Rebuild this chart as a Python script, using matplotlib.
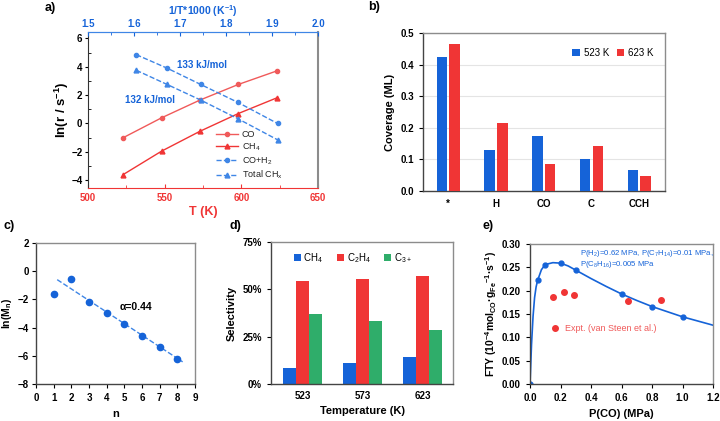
import matplotlib
matplotlib.use("Agg")
import matplotlib.pyplot as plt
from matplotlib.ticker import MultipleLocator, PercentFormatter, FormatStrFormatter
import numpy as np

plt.rcParams['font.family'] = ['Liberation Sans', 'DejaVu Sans']
plt.rcParams['font.weight'] = 'bold'
plt.rcParams['axes.labelweight'] = 'bold'
plt.rcParams['mathtext.default'] = 'regular'

# ---------------- data ----------------
# panel a
temps = [523, 548, 573, 598, 623]
ln_co = [-1.0, 0.4, 1.65, 2.75, 3.7]
ln_ch4 = [-3.6, -1.95, -0.55, 0.7, 1.8]
inv_t = [1.605, 1.672, 1.745, 1.825, 1.912]
ln_coh2 = [4.85, 3.9, 2.75, 1.5, 0.0]
ln_totch = [3.75, 2.75, 1.65, 0.35, -1.15]

# panel b
cov_species = ['*', 'H', 'CO', 'C', 'CCH']
cov_523 = [0.423, 0.131, 0.173, 0.101, 0.066]
cov_623 = [0.466, 0.214, 0.087, 0.143, 0.049]

# panel c
n_vals = [1, 2, 3, 4, 5, 6, 7, 8]
ln_mn = [-1.65, -0.55, -2.15, -2.95, -3.75, -4.6, -5.4, -6.25]
fit_n = [1.2, 8.3]
fit_ln = [-0.6, -6.43]

# panel d
sel_temps = ['523', '573', '623']
sel_ch4 = [8.5, 11.3, 14.3]
sel_c2h4 = [54.2, 55.2, 57.2]
sel_c3 = [37.0, 33.5, 28.5]

# panel e
curve_p = [0.0, 0.01, 0.02, 0.03, 0.04, 0.05, 0.075, 0.1, 0.15, 0.2, 0.25, 0.3,
           0.4, 0.5, 0.6, 0.7, 0.8, 0.9, 1.0, 1.1, 1.2]
curve_fty = [0.0, 0.085, 0.145, 0.185, 0.208, 0.222, 0.245, 0.256, 0.260, 0.259,
             0.253, 0.244, 0.226, 0.209, 0.193, 0.179, 0.166, 0.155, 0.144, 0.135, 0.126]
model_p = [0.0, 0.05, 0.1, 0.2, 0.3, 0.6, 0.8, 1.0]
model_fty = [0.0, 0.222, 0.256, 0.259, 0.244, 0.193, 0.166, 0.144]
expt_p = [0.15, 0.22, 0.29, 0.64, 0.86]
expt_fty = [0.187, 0.197, 0.190, 0.177, 0.180]

BLUE = '#1563d8'
RED = '#f03535'
GREEN = '#2fad6a'
LRED = '#f05a5a'
LBLUE = '#3f86e6'
SPINE = '#8c8c8c'

W, H = 720, 421
fig = plt.figure(figsize=(7.2, 4.21), dpi=100)

def rect(l, t, r, b):
    return [l / W, 1 - b / H, (r - l) / W, (b - t) / H]

def grey_spines(ax):
    for s in ax.spines.values():
        s.set_color(SPINE)
        s.set_linewidth(1.0)
    ax.spines['left'].set_color('#444444')
    ax.spines['bottom'].set_color('#444444')

# ---------------- panel a ----------------
ax = fig.add_axes(rect(88, 32, 318, 188))
ax.set_xlim(500, 650)
ax.set_ylim(-4.55, 6.45)
h1, = ax.plot(temps, ln_co, '-o', color=LRED, ms=3, lw=1, label='CO')
h2, = ax.plot(temps, ln_ch4, '-^', color=RED, ms=3.5, lw=1, label='CH$_4$')
ax.set_xlabel('T (K)', color=RED, fontsize=9, labelpad=2)
ax.set_ylabel('ln(r / s$^{-1}$)', fontsize=9.5)
ax.yaxis.set_label_coords(-0.075, 0.5)
ax.xaxis.set_major_locator(MultipleLocator(50))
ax.xaxis.set_minor_locator(MultipleLocator(25))
ax.yaxis.set_major_locator(MultipleLocator(2))
ax.yaxis.set_minor_locator(MultipleLocator(1))
ax.tick_params(axis='x', colors=RED, labelsize=7, direction='in', length=3)
ax.tick_params(axis='x', which='minor', colors=RED, direction='in', length=2)
ax.tick_params(axis='y', labelsize=7, direction='out', length=2.5, pad=1.5)
ax.tick_params(axis='y', which='minor', direction='in', length=2)
ax.spines['bottom'].set_color(RED)
ax.spines['left'].set_color('#333333')
ax.spines['right'].set_color(SPINE)
ax.spines['right'].set_linewidth(1.5)
ax.spines['top'].set_color(LBLUE)

axt = ax.twiny()
axt.set_xlim(1.5, 2.0)
h3, = axt.plot(inv_t, ln_coh2, '--o', color=LBLUE, ms=3, lw=1, label='CO+H$_2$')
h4, = axt.plot(inv_t, ln_totch, '--^', color=LBLUE, ms=3.5, lw=1, label='Total CH$_x$')
axt.set_xlabel('1/T*1000 (K$^{-1}$)', color=BLUE, fontsize=7.5, labelpad=3)
axt.xaxis.set_major_locator(MultipleLocator(0.1))
axt.xaxis.set_minor_locator(MultipleLocator(0.05))
axt.xaxis.set_major_formatter(FormatStrFormatter('%.1f'))
axt.tick_params(axis='x', colors=BLUE, labelsize=7, direction='in', length=3, pad=2)
axt.tick_params(axis='x', which='minor', colors=BLUE, direction='in', length=2)
for s in ['left', 'right', 'bottom']:
    axt.spines[s].set_visible(False)
axt.spines['top'].set_color(LBLUE)
axt.text(1.693, 4.1, '133 kJ/mol', color=BLUE, fontsize=7, fontweight='bold', va='center')
axt.text(1.58, 1.65, '132 kJ/mol', color=BLUE, fontsize=7, fontweight='bold', va='center')
leg = ax.legend(handles=[h1, h2, h3, h4], loc='lower right', bbox_to_anchor=(0.88, -0.01),
                frameon=False, handlelength=2.4, labelspacing=0.25, handletextpad=0.4,
                prop={'weight': 'normal', 'size': 6.5})
for t in leg.get_texts():
    t.set_color('#222222')
fig.text(45 / W, 1 - 8 / H, 'a)', fontsize=9, fontweight='bold', va='center')

# ---------------- panel b ----------------
ax = fig.add_axes(rect(423, 33, 665, 191))
xb = np.arange(len(cov_species))
ax.bar(xb - 0.135, cov_523, width=0.22, color=BLUE, label='523 K', zorder=3)
ax.bar(xb + 0.135, cov_623, width=0.22, color=RED, label='623 K', zorder=3)
ax.set_xlim(-0.53, 4.54)
ax.set_ylim(0, 0.5)
ax.set_xticks(xb)
ax.set_xticklabels(cov_species)
ax.yaxis.set_major_locator(MultipleLocator(0.1))
ax.yaxis.set_major_formatter(FormatStrFormatter('%.1f'))
ax.grid(axis='y', color='#e4e4e4', lw=0.8, zorder=0)
ax.tick_params(axis='x', length=0, labelsize=7, pad=6)
ax.tick_params(axis='y', labelsize=7, length=3)
ax.set_ylabel('Coverage (ML)', fontsize=8, labelpad=4)
grey_spines(ax)
ax.legend(loc='upper right', ncol=2, frameon=False, handlelength=0.8,
          handleheight=0.8, columnspacing=0.8, handletextpad=0.4,
          prop={'weight': 'normal', 'size': 7}, bbox_to_anchor=(0.99, 0.96))
fig.text(368 / W, 1 - 7 / H, 'b)', fontsize=9, fontweight='bold', va='center')

# ---------------- panel c ----------------
ax = fig.add_axes(rect(36, 243, 195, 384))
ax.plot(fit_n, fit_ln, '--', color=LBLUE, lw=1)
ax.plot(n_vals, ln_mn, 'o', color=BLUE, ms=4.5, ls='none')
ax.set_xlim(0, 9)
ax.set_ylim(-8, 2)
ax.xaxis.set_major_locator(MultipleLocator(1))
ax.yaxis.set_major_locator(MultipleLocator(2))
ax.tick_params(labelsize=7, length=3)
ax.tick_params(axis='y', pad=2)
ax.set_xlabel('n', fontsize=8)
ax.set_ylabel('ln(M$_n$)', fontsize=7.5)
ax.yaxis.set_label_coords(-0.14, 0.5)
ax.text(4.75, -2.55, 'α=0.44', fontsize=7.5, fontweight='bold', va='center')
grey_spines(ax)
fig.text(3 / W, 1 - 226 / H, 'c)', fontsize=9, fontweight='bold', va='center')

# ---------------- panel d ----------------
ax = fig.add_axes(rect(271, 242, 453, 384))
xd = np.arange(len(sel_temps))
ax.bar(xd - 0.22, sel_ch4, width=0.22, color=BLUE, label='CH$_4$')
ax.bar(xd, sel_c2h4, width=0.22, color=RED, label='C$_2$H$_4$')
ax.bar(xd + 0.22, sel_c3, width=0.22, color=GREEN, label='C$_{3+}$')
ax.set_xlim(-0.53, 2.51)
ax.set_ylim(0, 75)
ax.set_xticks(xd)
ax.set_xticklabels(sel_temps)
ax.yaxis.set_major_locator(MultipleLocator(25))
ax.yaxis.set_major_formatter(PercentFormatter(decimals=0))
ax.tick_params(axis='x', length=0, labelsize=7, pad=5)
ax.tick_params(axis='y', labelsize=7, length=3)
ax.set_xlabel('Temperature (K)', fontsize=8)
ax.set_ylabel('Selectivity', fontsize=8)
grey_spines(ax)
ax.legend(loc='upper center', ncol=3, frameon=False, handlelength=0.7, handleheight=0.7,
          columnspacing=1.4, handletextpad=0.3, prop={'weight': 'normal', 'size': 7},
          bbox_to_anchor=(0.45, 1.0))
fig.text(230 / W, 1 - 226 / H, 'd)', fontsize=9, fontweight='bold', va='center')

# ---------------- panel e ----------------
ax = fig.add_axes(rect(530, 244, 713, 384))
ax.plot(curve_p, curve_fty, '-', color=BLUE, lw=1.2)
ax.plot(model_p, model_fty, 'o', color=BLUE, ms=3.5, ls='none')
ax.plot(expt_p, expt_fty, 'o', color=RED, ms=4, ls='none', label='Expt. (van Steen et al.)')
ax.set_xlim(0, 1.2)
ax.set_ylim(0, 0.30)
ax.xaxis.set_major_locator(MultipleLocator(0.2))
ax.yaxis.set_major_locator(MultipleLocator(0.05))
ax.yaxis.set_major_formatter(FormatStrFormatter('%.2f'))
ax.xaxis.set_major_formatter(FormatStrFormatter('%.1f'))
ax.tick_params(labelsize=7, length=3)
ax.set_xlabel('P(CO) (MPa)', fontsize=8)
ax.set_ylabel('FTY (10$^{-4}$mol$_{CO}$·g$_{Fe}$$^{-1}$·s$^{-1}$)', fontsize=7.5, labelpad=2)
ax.text(0.325, 0.279, 'P(H$_2$)=0.62 MPa, P(C$_7$H$_{14}$)=0.01 MPa,', color=BLUE,
        fontsize=5.6, fontweight='normal', va='center')
ax.text(0.325, 0.256, 'P(C$_8$H$_{16}$)=0.005 MPa', color=BLUE,
        fontsize=5.6, fontweight='normal', va='center')
leg = ax.legend(loc='center left', bbox_to_anchor=(0.07, 0.397), frameon=False,
                handlelength=1.0, handletextpad=0.6, prop={'weight': 'normal', 'size': 6.5})
for t in leg.get_texts():
    t.set_color(LRED)
grey_spines(ax)
fig.text(483 / W, 1 - 226 / H, 'e)', fontsize=9, fontweight='bold', va='center')

fig.savefig('out.png', dpi=100)
